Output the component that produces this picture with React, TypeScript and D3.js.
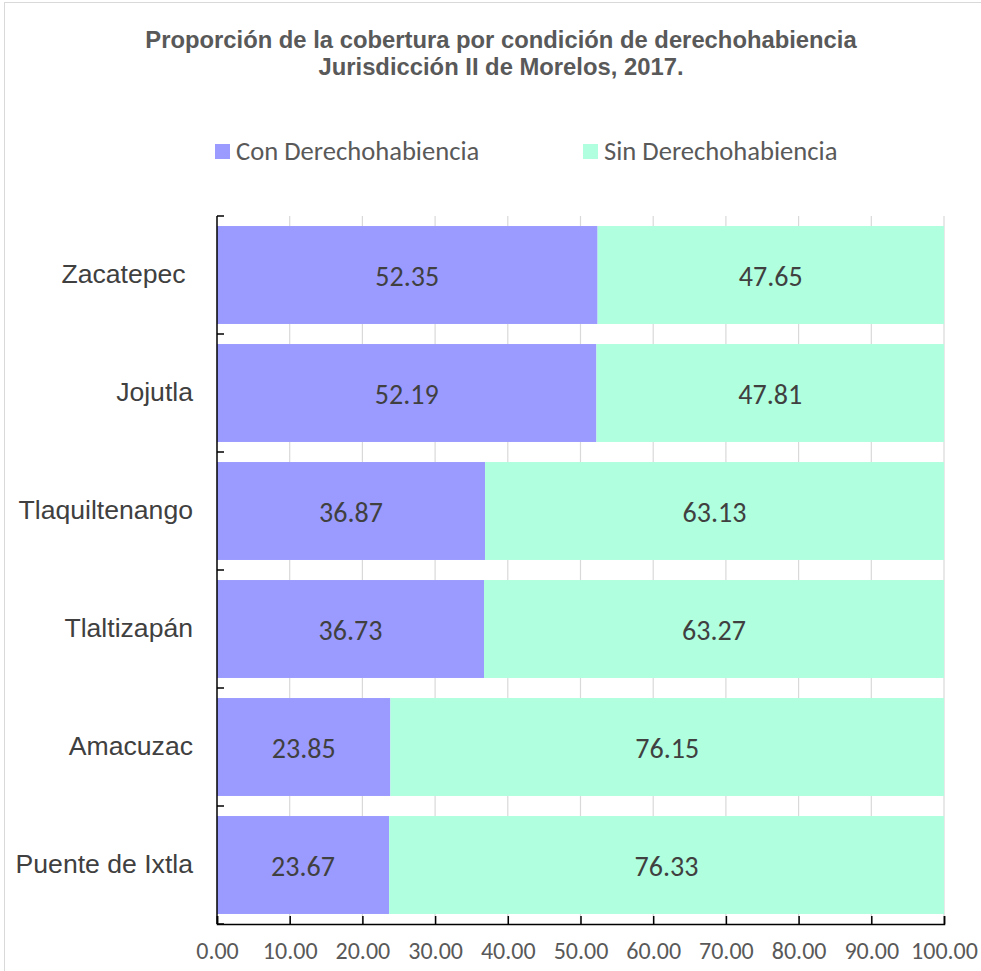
import * as d3 from "d3";
import { useEffect, useRef } from "react";

const categories = ["Zacatepec ", "Jojutla", "Tlaquiltenango", "Tlaltizapán", "Amacuzac", "Puente de Ixtla"];
const conDerecho = [52.35, 52.19, 36.87, 36.73, 23.85, 23.67];
const sinDerecho = [47.65, 47.81, 63.13, 63.27, 76.15, 76.33];
const seriesNames = ["Con Derechohabiencia", "Sin Derechohabiencia"];
const xTicks = [0, 10, 20, 30, 40, 50, 60, 70, 80, 90, 100];
const titleLines = [
  "Proporción de la cobertura por condición de derechohabiencia",
  "Jurisdicción II de Morelos, 2017.",
];

const colors = ["#9b9bff", "#b0ffdf"];
const calibri = "Carlito, Lato, 'Open Sans', sans-serif";
const arial = "'Liberation Sans', Arial, sans-serif";

export default function App() {
  const ref = useRef<SVGSVGElement>(null);

  useEffect(() => {
    const width = 981;
    const height = 971;
    const margin = { top: 216, right: 37, bottom: 47, left: 217 };

    const svg = d3.select(ref.current);
    svg.selectAll("*").remove();
    svg.attr("width", width).attr("height", height);

    svg.append("rect")
      .attr("x", 4.5).attr("y", 2.5)
      .attr("width", 990).attr("height", 990)
      .attr("fill", "white")
      .attr("stroke", "#d9d9d9");

    // title
    svg.append("g").selectAll("text")
      .data(titleLines)
      .enter()
      .append("text")
      .attr("x", 501)
      .attr("y", (d, i) => 48 + i * 27)
      .attr("text-anchor", "middle")
      .attr("font-family", arial)
      .attr("font-weight", "bold")
      .attr("font-size", "23.8px")
      .attr("fill", "#595959")
      .text(d => d);

    // legend
    const legendX = [215, 583];
    const legend = svg.append("g").selectAll("g")
      .data(seriesNames)
      .enter()
      .append("g")
      .attr("transform", (d, i) => `translate(${legendX[i]},144)`);
    legend.append("rect")
      .attr("width", 15).attr("height", 15)
      .attr("fill", (d, i) => colors[i]);
    legend.append("text")
      .attr("x", 21).attr("y", 16)
      .attr("font-family", calibri)
      .attr("font-size", "26.6px")
      .attr("fill", "#595959")
      .text(d => d);

    const x = d3.scaleLinear().domain([0, 100]).range([margin.left, width - margin.right]);
    const y = d3.scaleBand().domain(categories).range([margin.top, height - margin.bottom]).paddingInner(0.17).paddingOuter(0.085);

    // gridlines
    svg.append("g").selectAll("line")
      .data(xTicks.slice(1))
      .enter()
      .append("line")
      .attr("x1", d => x(d)).attr("x2", d => x(d))
      .attr("y1", margin.top).attr("y2", height - margin.bottom)
      .attr("stroke", "#d9d9d9")
      .attr("stroke-width", 1.2);

    const rows = svg.append("g").selectAll("g")
      .data(categories)
      .enter()
      .append("g");

    rows.append("rect")
      .attr("x", x(0))
      .attr("y", d => y(d)!)
      .attr("width", (d, i) => x(conDerecho[i]) - x(0))
      .attr("height", y.bandwidth())
      .attr("fill", colors[0]);
    rows.append("rect")
      .attr("x", (d, i) => x(conDerecho[i]))
      .attr("y", d => y(d)!)
      .attr("width", (d, i) => x(conDerecho[i] + sinDerecho[i]) - x(conDerecho[i]))
      .attr("height", y.bandwidth())
      .attr("fill", colors[1]);

    const valueLabel = (sel: any) => sel
      .attr("y", (d: string) => y(d)! + y.bandwidth() / 2 + 11)
      .attr("text-anchor", "middle")
      .attr("font-family", calibri)
      .attr("font-size", "28px")
      .attr("fill", "#404040");

    rows.append("text")
      .attr("x", (d, i) => x(conDerecho[i] / 2))
      .call(valueLabel)
      .text((d, i) => conDerecho[i].toFixed(2));
    rows.append("text")
      .attr("x", (d, i) => x(conDerecho[i] + sinDerecho[i] / 2))
      .call(valueLabel)
      .text((d, i) => sinDerecho[i].toFixed(2));

    // category labels
    rows.append("text")
      .attr("x", margin.left - 24)
      .attr("y", d => y(d)! + y.bandwidth() / 2 + 8)
      .attr("text-anchor", "end")
      .attr("font-family", arial)
      .attr("font-size", "26.6px")
      .attr("fill", "#404040")
      .style("white-space", "pre")
      .text(d => d);

    // y axis with ticks at band boundaries
    const step = y.step();
    const yBounds = d3.range(categories.length + 1).map(i => margin.top + i * step);
    const yAxis = svg.append("g");
    yAxis.append("line")
      .attr("x1", x(0)).attr("x2", x(0))
      .attr("y1", margin.top).attr("y2", height - margin.bottom)
      .attr("stroke", "black").attr("stroke-width", 1.5);
    yAxis.selectAll(".yt")
      .data(yBounds)
      .enter()
      .append("line")
      .attr("x1", x(0)).attr("x2", x(0) + 7)
      .attr("y1", d => d).attr("y2", d => d)
      .attr("stroke", "black").attr("stroke-width", 1.5);

    // x axis
    const xAxis = svg.append("g")
      .attr("transform", `translate(0,${height - margin.bottom})`)
      .call(d3.axisBottom(x).tickValues(xTicks).tickSize(-8).tickPadding(20).tickFormat(d => (d as number).toFixed(2)));
    xAxis.select(".domain").attr("stroke", "black").attr("stroke-width", 1.5);
    xAxis.selectAll(".tick line").attr("stroke", "black").attr("stroke-width", 1.5);
    xAxis.selectAll(".tick text")
      .attr("font-family", calibri)
      .attr("font-size", "24px")
      .attr("dy", "0.62em")
      .attr("fill", "#595959");
  }, []);

  return <svg ref={ref} style={{ position: "absolute", left: 0, top: 0 }}></svg>;
}
